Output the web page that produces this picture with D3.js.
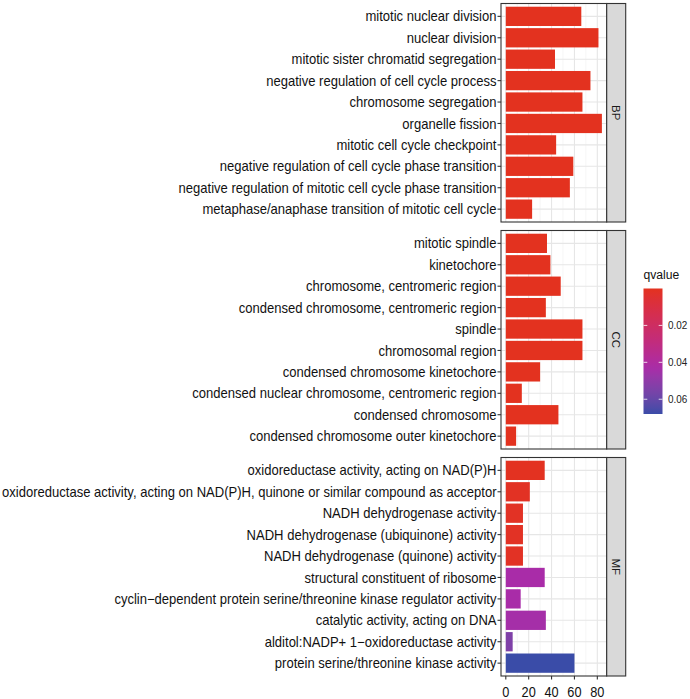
<!DOCTYPE html>
<html><head><meta charset="utf-8">
<script src="https://cdn.jsdelivr.net/npm/d3@7"></script>
<style>body{margin:0;background:#fff}svg{display:block}text{font-family:"Liberation Sans",Arial,sans-serif}</style>
</head><body><svg id="c" width="690" height="699"></svg>
<script>
// ---- data ----
const panels = ["BP","CC","MF"];
const bpTerms = ["mitotic nuclear division","nuclear division","mitotic sister chromatid segregation","negative regulation of cell cycle process","chromosome segregation","organelle fission","mitotic cell cycle checkpoint","negative regulation of cell cycle phase transition","negative regulation of mitotic cell cycle phase transition","metaphase/anaphase transition of mitotic cell cycle"];
const bpCounts = [66,81,43,74,67,84,44,59,56,23];
const bpQ = [1e-12,1e-12,1e-11,1e-10,1e-10,1e-11,1e-9,1e-9,1e-9,1e-8];
const ccTerms = ["mitotic spindle","kinetochore","chromosome, centromeric region","condensed chromosome, centromeric region","spindle","chromosomal region","condensed chromosome kinetochore","condensed nuclear chromosome, centromeric region","condensed chromosome","condensed chromosome outer kinetochore"];
const ccCounts = [36,39,48,35,67,67,30,14,46,9];
const ccQ = [1e-10,1e-10,1e-10,1e-10,1e-10,1e-10,1e-9,1e-8,1e-8,1e-7];
const mfTerms = ["oxidoreductase activity, acting on NAD(P)H","oxidoreductase activity, acting on NAD(P)H, quinone or similar compound as acceptor","NADH dehydrogenase activity","NADH dehydrogenase (ubiquinone) activity","NADH dehydrogenase (quinone) activity","structural constituent of ribosome","cyclin\u2212dependent protein serine/threonine kinase regulator activity","catalytic activity, acting on DNA","alditol:NADP+ 1\u2212oxidoreductase activity","protein serine/threonine kinase activity"];
const mfCounts = [34,21,15,15,15,34,13,35,6,60];
const mfQ = [0.0005,0.0012,0.0015,0.0015,0.0015,0.043,0.043,0.044,0.054,0.068];
const xTicks = [0,20,40,60,80];
const xMinor = [10,30,50,70];
const legendTicks = [0.02,0.04,0.06];

const terms = {BP:bpTerms, CC:ccTerms, MF:mfTerms};
const counts = {BP:bpCounts, CC:ccCounts, MF:mfCounts};
const qs = {BP:bpQ, CC:ccQ, MF:mfQ};

// ---- layout ----
const svg = d3.select("#c");
const panelX0 = 501, panelX1 = 606.7, stripX1 = 625.7;
const panelTops = [3.5, 230.5, 457.5], panelH = 218.5;

const allCounts = bpCounts.concat(ccCounts, mfCounts);
const allQ = bpQ.concat(ccQ, mfQ);
const cmax = d3.max(allCounts);
const x = d3.scaleLinear().domain([-0.05*cmax, cmax*1.05]).range([panelX0, panelX1]);
const qmin = d3.min(allQ), qmax = d3.max(allQ);
const color = d3.scaleLinear().domain([0, 0.043, qmax])
  .range(["#e3321f","#a92ca8","#3a4ca8"]).interpolate(d3.interpolateLab).clamp(true);

// measure label scale factor
const meas = svg.append("text").attr("font-size",14).text(mfTerms[1]);
const sx = 495 / meas.node().getComputedTextLength();
meas.remove();

panels.forEach((p,i)=>{
  const top = panelTops[i], bot = top + panelH;
  const y = d3.scalePoint().domain(terms[p]).range([top, bot]).padding(0.6);
  const bh = y.step()*0.9;
  const g = svg.append("g");
  g.append("rect").attr("x",panelX0).attr("y",top).attr("width",panelX1-panelX0).attr("height",panelH).attr("fill","#fff");
  // grid
  g.selectAll(".mn").data(xMinor).join("line").attr("x1",d=>x(d)).attr("x2",d=>x(d)).attr("y1",top).attr("y2",bot).attr("stroke","#f0f0f0").attr("stroke-width",0.6);
  g.selectAll(".mj").data(xTicks).join("line").attr("x1",d=>x(d)).attr("x2",d=>x(d)).attr("y1",top).attr("y2",bot).attr("stroke","#e6e6e6").attr("stroke-width",1.1);
  g.selectAll(".hj").data(terms[p]).join("line").attr("x1",panelX0).attr("x2",panelX1).attr("y1",d=>y(d)).attr("y2",d=>y(d)).attr("stroke","#e6e6e6").attr("stroke-width",1.1);
  // bars
  g.selectAll(".bar").data(terms[p].map((t,j)=>({t,c:counts[p][j],q:qs[p][j]}))).join("rect")
    .attr("x",x(0)).attr("y",d=>y(d.t)-bh/2).attr("width",d=>x(d.c)-x(0)).attr("height",bh)
    .attr("fill",d=>color(d.q));
  // border
  g.append("rect").attr("x",panelX0).attr("y",top).attr("width",panelX1-panelX0).attr("height",panelH).attr("fill","none").attr("stroke","#333").attr("stroke-width",1.1);
  // strip
  g.append("rect").attr("x",panelX1).attr("y",top).attr("width",stripX1-panelX1).attr("height",panelH).attr("fill","#d9d9d9").attr("stroke","#333").attr("stroke-width",1.1);
  g.append("text").attr("transform",`translate(${(panelX1+stripX1)/2},${top+panelH/2}) rotate(90)`)
    .attr("text-anchor","middle").attr("dy","0.35em").attr("font-size",11.5).attr("fill","#1a1a1a").text(p);
  // y ticks & labels
  g.selectAll(".yt").data(terms[p]).join("line").attr("x1",panelX0-3.5).attr("x2",panelX0).attr("y1",d=>y(d)).attr("y2",d=>y(d)).attr("stroke","#333").attr("stroke-width",1.1);
  g.selectAll(".yl").data(terms[p]).join("text")
    .attr("transform",d=>`translate(${panelX0-4.5},${y(d)}) scale(${sx},1)`)
    .attr("text-anchor","end").attr("dy","0.36em").attr("font-size",14).attr("fill","#111").text(d=>d);
  if(i===2){
    g.selectAll(".xt").data(xTicks).join("line").attr("x1",d=>x(d)).attr("x2",d=>x(d)).attr("y1",bot).attr("y2",bot+3.5).attr("stroke","#333").attr("stroke-width",1.1);
    g.selectAll(".xl").data(xTicks).join("text").attr("transform",d=>`translate(${x(d)},696.5) scale(0.85,1)`).attr("text-anchor","middle").attr("font-size",15).attr("fill","#111").text(d=>d);
  }
});

// ---- legend ----
const lgX = 643.5, lgW = 19, lgY0 = 288.5, lgY1 = 414;
const ly = d3.scaleLinear().domain([qmin,qmax]).range([lgY0,lgY1]);
const defs = svg.append("defs");
const grad = defs.append("linearGradient").attr("id","lg").attr("x1",0).attr("x2",0).attr("y1",0).attr("y2",1);
d3.range(0,1.0001,0.05).forEach(t=>{
  grad.append("stop").attr("offset",t).attr("stop-color",color(qmin+t*(qmax-qmin)));
});
svg.append("text").attr("transform",`translate(${lgX},279) scale(0.9,1)`).attr("font-size",13.5).attr("fill","#111").text("qvalue");
svg.append("rect").attr("x",lgX).attr("y",lgY0).attr("width",lgW).attr("height",lgY1-lgY0).attr("fill","url(#lg)");
legendTicks.forEach(v=>{
  svg.append("line").attr("x1",lgX).attr("x2",lgX+lgW*0.2).attr("y1",ly(v)).attr("y2",ly(v)).attr("stroke","#fff").attr("stroke-width",1).attr("opacity",0.8);
  svg.append("line").attr("x1",lgX+lgW*0.8).attr("x2",lgX+lgW).attr("y1",ly(v)).attr("y2",ly(v)).attr("stroke","#fff").attr("stroke-width",1).attr("opacity",0.8);
  svg.append("text").attr("transform",`translate(668,${ly(v)}) scale(0.9,1)`).attr("dy","0.36em").attr("font-size",11).attr("fill","#222").text(v.toFixed(2));
});
</script></body></html>
